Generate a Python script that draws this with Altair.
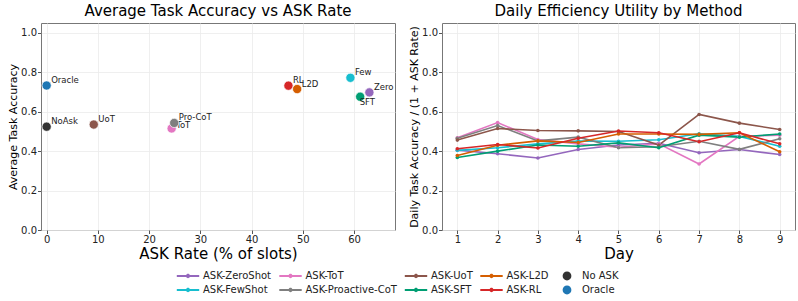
import altair as alt
import pandas as pd

# ---------------- data ----------------
names = ["ASK-ZeroShot", "ASK-FewShot", "ASK-ToT", "ASK-Proactive-CoT", "ASK-UoT",
         "ASK-SFT", "ASK-L2D", "ASK-RL", "No ASK", "Oracle"]
short_labels = ["Zero", "Few", "ToT", "Pro-CoT", "UoT", "SFT", "L2D", "RL", "NoAsk", "Oracle"]
colors = ["#9467bd", "#17becf", "#e377c2", "#7f7f7f", "#8c564b",
          "#009e73", "#d55e00", "#d62728", "#333333", "#1f77b4"]
ask_rate = [63.0, 59.3, 24.4, 24.9, 9.2, 61.2, 48.9, 47.2, 0.0, 0.0]
avg_acc = [0.698, 0.772, 0.515, 0.543, 0.535, 0.676, 0.715, 0.732, 0.524, 0.733]
label_style = ["normal", "normal", "tot", "normal", "normal", "below", "normal", "normal", "normal", "normal"]
draw_tier = [0, 0, 0, 1, 0, 0, 1, 0, 0, 0]

days = [1, 2, 3, 4, 5, 6, 7, 8, 9]
daily_zero = [0.405, 0.387, 0.365, 0.408, 0.431, 0.440, 0.392, 0.408, 0.383]
daily_few = [0.404, 0.417, 0.437, 0.451, 0.450, 0.458, 0.488, 0.475, 0.425]
daily_tot = [0.468, 0.545, 0.459, 0.437, 0.420, 0.437, 0.335, 0.475, 0.481]
daily_procot = [0.465, 0.530, 0.452, 0.471, 0.417, 0.422, 0.450, 0.409, 0.463]
daily_uot = [0.456, 0.515, 0.505, 0.503, 0.500, 0.431, 0.586, 0.542, 0.510]
daily_sft = [0.368, 0.400, 0.431, 0.425, 0.442, 0.417, 0.481, 0.471, 0.487]
daily_l2d = [0.378, 0.430, 0.452, 0.444, 0.487, 0.487, 0.485, 0.493, 0.397]
daily_rl = [0.412, 0.434, 0.416, 0.465, 0.502, 0.493, 0.448, 0.493, 0.437]

x_ticks_left = [0, 10, 20, 30, 40, 50, 60]
y_ticks = [0.0, 0.2, 0.4, 0.6, 0.8, 1.0]

# legend entries (filled column by column, 2 rows)
legend_order = names

FONT = "DejaVu Sans"
LINE_SYM = ("M-2.8,-0.25 L-0.45,-0.25 A0.5,0.5 0 0,1 0.45,-0.25 L2.8,-0.25 L2.8,0.25 "
            "L0.45,0.25 A0.5,0.5 0 0,1 -0.45,0.25 L-2.8,0.25 Z")
CIRC_SYM = "M-1.1,0 A1.1,1.1 0 1,0 1.1,0 A1.1,1.1 0 1,0 -1.1,0 Z"

color_of = dict(zip(names, colors))
legend_colors = [color_of[n] for n in legend_order]
legend_shapes = [CIRC_SYM if n in ("No ASK", "Oracle") else LINE_SYM for n in legend_order]

scatter_df = pd.DataFrame({
    "name": names, "label": short_labels, "ask_rate": ask_rate, "acc": avg_acc,
    "style": label_style, "tier": draw_tier,
})

series = [daily_zero, daily_few, daily_tot, daily_procot, daily_uot, daily_sft, daily_l2d, daily_rl]
rows = []
for n, vals in zip(names[:8], series):
    for d, v in zip(days, vals):
        rows.append({"name": n, "day": d, "value": v})
daily_df = pd.DataFrame(rows)

legend_df = pd.DataFrame({"name": legend_order})

# mark scales (domain order differs from the legend scale on purpose)
fill_scale = alt.Scale(domain=names[::-1], range=colors[::-1])
stroke_scale = alt.Scale(domain=names[:8], range=colors[:8])

# ---------------- left: scatter ----------------
xl = alt.X("ask_rate:Q", scale=alt.Scale(domain=[-1.1, 68], nice=False, zero=False),
           axis=alt.Axis(values=x_ticks_left, title="ASK Rate (% of slots)", titleFontSize=15,
                         format="d"))
yl = alt.Y("acc:Q", scale=alt.Scale(domain=[0, 1.05], nice=False),
           axis=alt.Axis(values=y_ticks, format=".1f", title="Average Task Accuracy",
                         titleFontSize=11))

base_s = alt.Chart(scatter_df).encode(x=xl, y=yl)

def pts(tier):
    return base_s.transform_filter(alt.datum.tier == tier).mark_circle(
        size=85, opacity=1, stroke="white", strokeWidth=0.7
    ).encode(fill=alt.Fill("name:N", scale=fill_scale, legend=None))

def labels(tier):
    b = base_s.transform_filter(alt.datum.tier == tier)
    normal = b.transform_filter(alt.datum.style == "normal").mark_text(
        align="left", baseline="alphabetic", dx=4.5, dy=-2.5, fontSize=8.5, font=FONT, color="#222"
    ).encode(text="label:N")
    tot = b.transform_filter(alt.datum.style == "tot").mark_text(
        align="left", baseline="alphabetic", dx=4.5, dy=0, fontSize=8.5, font=FONT, color="#222"
    ).encode(text="label:N")
    below = b.transform_filter(alt.datum.style == "below").mark_text(
        align="left", baseline="alphabetic", dx=-0.5, dy=8.5, fontSize=8.5, font=FONT, color="#222"
    ).encode(text="label:N")
    return [normal, tot, below]

left = alt.layer(pts(0), *labels(0), pts(1), *labels(1)).properties(
    width=354, height=207,
    title=alt.TitleParams("Average Task Accuracy vs ASK Rate", fontSize=15, fontWeight="normal",
                          font=FONT, offset=4, color="black"),
)

# ---------------- right: lines ----------------
xr = alt.X("day:Q", scale=alt.Scale(domain=[0.62, 9.38], nice=False, zero=False),
           axis=alt.Axis(values=days, format="d", title="Day", titleFontSize=15))
yr = alt.Y("value:Q", scale=alt.Scale(domain=[0, 1.05], nice=False),
           axis=alt.Axis(values=y_ticks, format=".1f", title="Daily Task Accuracy / (1 + ASK Rate)",
                         titleFontSize=11))

base_l = alt.Chart(daily_df).encode(x=xr, y=yr)
lines = base_l.mark_line(strokeWidth=1.6).encode(
    stroke=alt.Stroke("name:N", scale=stroke_scale, legend=None), detail="name:N")
dots = base_l.mark_circle(size=13, opacity=1).encode(
    fill=alt.Fill("name:N", scale=fill_scale, legend=None))

leg_common = dict(orient="none", legendX=135, legendY=248, columns=5, title=None,
                  symbolSize=64, symbolOffset=7, labelOffset=10, labelFontSize=10, labelFont=FONT,
                  labelColor="#222", columnPadding=6.5, rowPadding=4, symbolStrokeWidth=0)
legend_layer = alt.Chart(legend_df).transform_filter("false").mark_point(filled=True, opacity=1).encode(
    color=alt.Color("name:N", scale=alt.Scale(domain=legend_order, range=legend_colors),
                    legend=alt.Legend(**leg_common)),
    shape=alt.Shape("name:N", scale=alt.Scale(domain=legend_order, range=legend_shapes),
                    legend=alt.Legend(**leg_common)),
)

right = alt.layer(lines, dots, legend_layer).properties(
    width=353, height=207,
    title=alt.TitleParams("Daily Efficiency Utility by Method", fontSize=15, fontWeight="normal",
                          font=FONT, offset=4, color="black"),
)

chart = alt.hconcat(left, right, spacing=12).properties(
    padding={"left": 7, "top": 3, "right": 0, "bottom": 0},
    background="white",
).configure_view(
    stroke="#777", strokeWidth=1
).configure_axis(
    domain=False, grid=True, gridColor="#ebebeb", gridWidth=0.8,
    tickColor="#555", tickSize=3.5, labelFontSize=10, labelFont=FONT, labelColor="#222",
    titleFont=FONT, titleFontWeight="normal", titleColor="black", labelPadding=1, titlePadding=2,
).configure_legend(
    labelFont=FONT
)

chart.save("out.html", embed_options={"renderer": "svg", "actions": False})
